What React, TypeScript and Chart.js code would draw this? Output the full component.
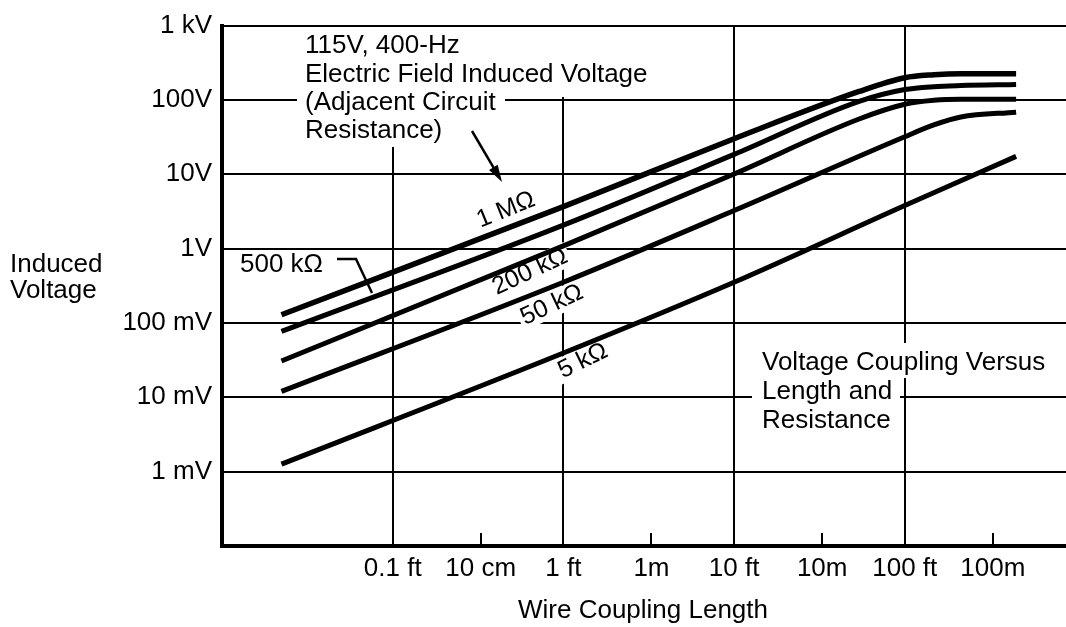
import React, { useEffect, useRef } from "react";
import { Chart, registerables } from "chart.js";

Chart.register(...registerables);

// Wire coupling length, feet
const lengthFt = [0.0223, 1, 10, 54, 100, 148, 213, 449];
const lengthFt50k = [0.0223, 1, 10, 100, 148, 213, 449];
const lengthFt5k = [0.0223, 1, 10, 100, 449];

// Induced voltage, volts
const volts1M = [0.129, 3.68, 30.1, 130, 199, 218, 225, 225];
const volts500k = [0.0769, 2.07, 18.5, 95.7, 138, 151, 156, 161];
const volts200k = [0.0308, 1.09, 10.1, 55.4, 87.4, 98.8, 102, 102];
const volts50k = [0.012, 0.353, 3.25, 32.0, 46.1, 58.9, 68.5];
const volts5k = [0.00126, 0.0394, 0.353, 3.8, 17.4];

const seriesNames = ["1 MΩ", "500 kΩ", "200 kΩ", "50 kΩ", "5 kΩ"];

const xTickValues = [0.1, 0.328, 1, 3.281, 10, 32.81, 100, 328.1];
const xTickLabels = ["0.1 ft", "10 cm", "1 ft", "1m", "10 ft", "10m", "100 ft", "100m"];
const xGridValues = [0.1, 1, 10, 100];
const xMinorValues = [0.328, 3.281, 32.81, 328.1];

const yTickValues = [0.001, 0.01, 0.1, 1, 10, 100, 1000];
const yTickLabels = ["1 mV", "10 mV", "100 mV", "1V", "10V", "100V", "1 kV"];

const titleLines = ["115V, 400-Hz", "Electric Field Induced Voltage", "(Adjacent Circuit", "Resistance)"];
const noteLines = ["Voltage Coupling Versus", "Length and", "Resistance"];
const yTitleLines = ["Induced", "Voltage"];
const xTitle = "Wire Coupling Length";

const FAMILY = '"Liberation Sans", Arial, Helvetica, sans-serif';
const FONT = `26px ${FAMILY}`;
const LABEL_FONT = `25px ${FAMILY}`;

const rotLabels = [
  { t: "1 MΩ", x: 506, y: 210, a: -22 },
  { t: "200 kΩ", x: 530, y: 272, a: -25 },
  { t: "50 kΩ", x: 552, y: 305, a: -25 },
  { t: "5 kΩ", x: 583, y: 361, a: -26 },
];

const annotPlugin = {
  id: "annot",
  beforeDatasetsDraw(chart: any) {
    const ctx = chart.ctx as CanvasRenderingContext2D;
    ctx.save();
    ctx.fillStyle = "#fff";
    // white backgrounds behind text blocks
    ctx.fillRect(297, 27, 366, 70);
    ctx.fillRect(297, 97, 208, 50);
    ctx.fillRect(752, 343, 305, 35);
    ctx.fillRect(752, 378, 148, 60);
    ctx.fillRect(234, 250, 98, 28);
    ctx.font = LABEL_FONT;
    rotLabels.forEach((l) => {
      ctx.save();
      ctx.translate(l.x, l.y);
      ctx.rotate((l.a * Math.PI) / 180);
      const w = ctx.measureText(l.t).width;
      ctx.fillRect(-w / 2 - 3, -13, w + 6, 25);
      ctx.restore();
    });
    // inner minor ticks for metric lengths
    const xs = chart.scales.x;
    const bottom = chart.chartArea.bottom;
    ctx.strokeStyle = "#000";
    ctx.lineWidth = 2;
    xMinorValues.forEach((v) => {
      const px = Math.round(xs.getPixelForValue(v));
      ctx.beginPath();
      ctx.moveTo(px, bottom);
      ctx.lineTo(px, bottom - 13);
      ctx.stroke();
    });
    ctx.restore();
  },
  afterDatasetsDraw(chart: any) {
    const ctx = chart.ctx as CanvasRenderingContext2D;
    ctx.save();
    ctx.fillStyle = "#000";
    ctx.strokeStyle = "#000";
    ctx.font = FONT;
    ctx.textBaseline = "alphabetic";
    ctx.textAlign = "left";
    const tb = [53, 82, 110, 138];
    titleLines.forEach((s, i) => ctx.fillText(s, 305, tb[i]));
    const nb = [370, 399, 428];
    noteLines.forEach((s, i) => ctx.fillText(s, 762, nb[i]));
    const yb = [272, 298];
    yTitleLines.forEach((s, i) => ctx.fillText(s, 10, yb[i]));
    ctx.fillText(seriesNames[1], 240, 272);
    ctx.textAlign = "center";
    ctx.fillText(xTitle, 643, 618);

    // rotated curve labels
    ctx.font = LABEL_FONT;
    ctx.textBaseline = "middle";
    rotLabels.forEach((l) => {
      ctx.save();
      ctx.translate(l.x, l.y);
      ctx.rotate((l.a * Math.PI) / 180);
      ctx.fillText(l.t, 0, 0);
      ctx.restore();
    });

    // leader for 500 kΩ
    ctx.lineWidth = 2.5;
    ctx.beginPath();
    ctx.moveTo(337, 259);
    ctx.lineTo(356, 259);
    ctx.lineTo(372, 293);
    ctx.stroke();

    // arrow from title block
    const x0 = 472, y0 = 131, x1 = 502, y1 = 182;
    const ang = Math.atan2(y1 - y0, x1 - x0);
    ctx.lineWidth = 2.5;
    ctx.beginPath();
    ctx.moveTo(x0, y0);
    ctx.lineTo(x1 - 12 * Math.cos(ang), y1 - 12 * Math.sin(ang));
    ctx.stroke();
    ctx.beginPath();
    ctx.moveTo(x1, y1);
    ctx.lineTo(x1 - 17 * Math.cos(ang) + 5 * Math.sin(ang), y1 - 17 * Math.sin(ang) - 5 * Math.cos(ang));
    ctx.lineTo(x1 - 17 * Math.cos(ang) - 5 * Math.sin(ang), y1 - 17 * Math.sin(ang) + 5 * Math.cos(ang));
    ctx.closePath();
    ctx.fill();
    ctx.restore();
  },
};

function mk(xs: number[], vs: number[], width: number) {
  return {
    data: xs.map((x, i) => ({ x, y: vs[i] })),
    borderColor: "#000",
    backgroundColor: "#000",
    borderWidth: width,
    pointRadius: 0,
    fill: false,
    cubicInterpolationMode: "monotone" as const,
    borderCapStyle: "butt" as const,
  };
}

export default function App() {
  const ref = useRef<HTMLCanvasElement | null>(null);
  useEffect(() => {
    if (!ref.current) return;
    const chart = new Chart(ref.current, {
      type: "line",
      data: {
        datasets: [
          { label: seriesNames[0], ...mk(lengthFt, volts1M, 5.5) },
          { label: seriesNames[1], ...mk(lengthFt, volts500k, 5) },
          { label: seriesNames[2], ...mk(lengthFt, volts200k, 5) },
          { label: seriesNames[3], ...mk(lengthFt50k, volts50k, 5) },
          { label: seriesNames[4], ...mk(lengthFt5k, volts5k, 5) },
        ],
      },
      options: {
        animation: false,
        responsive: false,
        layout: { padding: { top: 17, right: 0, left: 0, bottom: 0 } },
        plugins: {
          legend: { display: false },
          tooltip: { enabled: false },
          title: { display: false },
        },
        scales: {
          x: {
            type: "logarithmic",
            min: 0.01,
            max: 880,
            afterBuildTicks: (s: any) => {
              s.ticks = xTickValues.map((v) => ({ value: v }));
            },
            afterFit: (s: any) => {
              s.height = 81;
            },
            grid: {
              color: (c: any) => (c.tick && xGridValues.includes(c.tick.value) ? "#000" : "rgba(0,0,0,0)"),
              lineWidth: 2,
              drawTicks: false,
            },
            border: { display: true, color: "#000", width: 4 },
            ticks: {
              autoSkip: false,
              maxRotation: 0,
              minRotation: 0,
              padding: 7,
              color: "#000",
              font: { family: FAMILY, size: 26 },
              callback: (_v: any, i: number) => xTickLabels[i],
            },
          },
          y: {
            type: "logarithmic",
            min: 0.0001,
            max: 1000,
            afterBuildTicks: (s: any) => {
              s.ticks = yTickValues.map((v) => ({ value: v }));
            },
            afterFit: (s: any) => {
              s.width = 222;
            },
            grid: { color: "#000", lineWidth: 2, drawTicks: false },
            border: { display: true, color: "#000", width: 4 },
            ticks: {
              autoSkip: false,
              padding: 10,
              color: "#000",
              font: { family: FAMILY, size: 26 },
              callback: (_v: any, i: number) => yTickLabels[i],
            },
          },
        },
      } as any,
      plugins: [annotPlugin],
    });
    return () => chart.destroy();
  }, []);
  return (
    <div style={{ position: "absolute", left: 0, top: 0, width: 1066, height: 627, background: "#fff" }}>
      <canvas ref={ref} width={1066} height={627} style={{ display: "block", width: 1066, height: 627 }} />
    </div>
  );
}
